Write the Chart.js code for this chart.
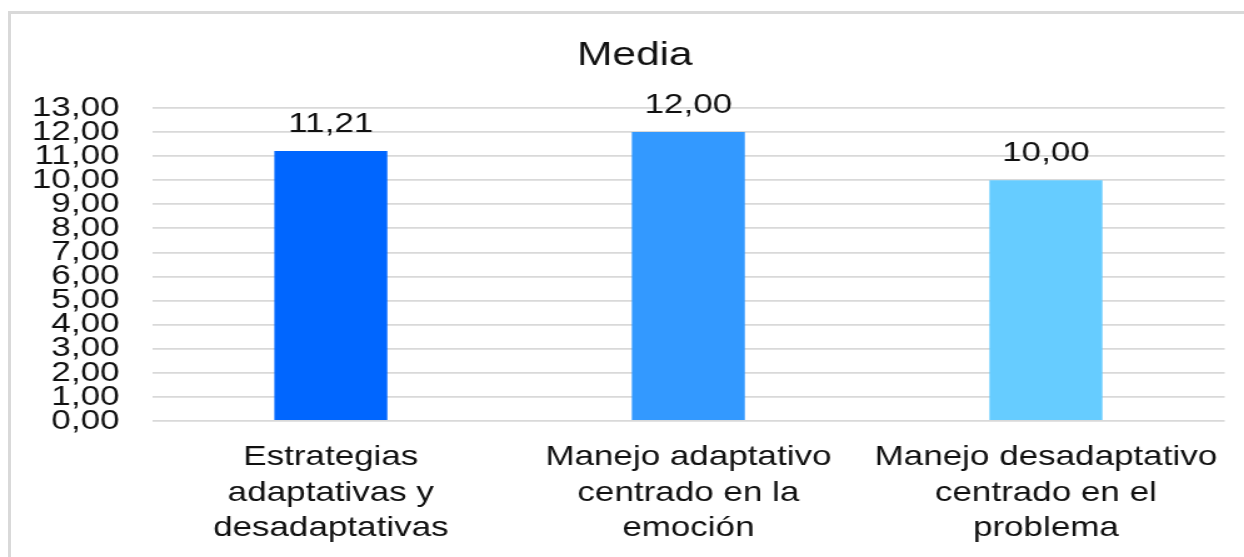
<!DOCTYPE html>
<html>
<head>
<meta charset="utf-8">
<script src="https://cdn.jsdelivr.net/npm/chart.js@4/dist/chart.umd.min.js"></script>
<style>
  html, body { margin: 0; padding: 0; background: #fff; overflow: hidden; }
  #frame { position: absolute; left: 8px; top: 11px; width: 1300px; height: 600px; border: 3px solid #d9d9d9; }
  #wrap { position: absolute; left: 0; top: 0; width: 995px; height: 557px; transform: scaleX(1.2503); transform-origin: 0 0; }
</style>
</head>
<body>
<div id="frame"></div>
<div id="wrap"><canvas id="myChart" width="995" height="557"></canvas></div>
<script>
// Mean score per coping strategy group
var chartTitle = 'Media';
var categories = [
  ['Estrategias', 'adaptativas y', 'desadaptativas'],
  ['Manejo adaptativo', 'centrado en la', 'emoción'],
  ['Manejo desadaptativo', 'centrado en el', 'problema']
];
var media = [11.21, 12.00, 10.00];
var barColors = ['#0066ff', '#3399ff', '#66ccff'];
var yMin = 0, yMax = 13, yStep = 1;

var FONT = '"Liberation Sans", Arial, sans-serif';

function fmt(v) {
  return Number(v).toFixed(2).replace('.', ',');
}

// title (drawn by hand so it can sit off-centre like the original) + values above bars
const textPlugin = {
  id: 'textPlugin',
  afterDraw(chart) {
    const ctx = chart.ctx;
    ctx.save();
    ctx.fillStyle = '#111';
    ctx.textAlign = 'center';
    ctx.textBaseline = 'alphabetic';

    ctx.font = '34px ' + FONT;
    ctx.fillText(chartTitle, 507.7, 65);

    ctx.font = '28px ' + FONT;
    const meta = chart.getDatasetMeta(0);
    meta.data.forEach((bar, i) => {
      ctx.fillText(fmt(media[i]), bar.x, bar.y - 19);
    });
    ctx.restore();
  }
};

const data = {
  labels: categories,
  datasets: [
    {
      label: chartTitle,
      data: media,
      backgroundColor: barColors,
      borderWidth: 0,
      categoryPercentage: 1,
      barPercentage: 0.316,
    },
  ],
};

const config = {
  type: 'bar',
  data: data,
  options: {
    responsive: false,
    animation: false,
    devicePixelRatio: 1,
    layout: { padding: { left: 18, right: 15, top: 108, bottom: 11 } },
    plugins: {
      legend: { display: false },
      tooltip: { enabled: false },
      title: { display: false },
    },
    scales: {
      x: {
        afterFit: function (scale) { scale.height = 125; },
        grid: { display: false, drawTicks: false },
        border: { display: false },
        ticks: {
          color: '#111',
          autoSkip: false,
          maxRotation: 0,
          padding: 19,
          font: { family: FONT, size: 28, lineHeight: 1.26 },
        },
      },
      y: {
        min: yMin,
        max: yMax,
        afterFit: function (scale) { scale.width = 103.6; },
        grid: { color: '#d9d9d9', lineWidth: 1.8, drawTicks: false },
        border: { display: false },
        ticks: {
          stepSize: yStep,
          autoSkip: false,
          color: '#111',
          padding: 26,
          font: { family: FONT, size: 28 },
          callback: function (v) { return fmt(v); },
        },
      },
    },
  },
  plugins: [textPlugin],
};

var myChart = new Chart(document.getElementById('myChart'), config);
</script>
</body>
</html>
